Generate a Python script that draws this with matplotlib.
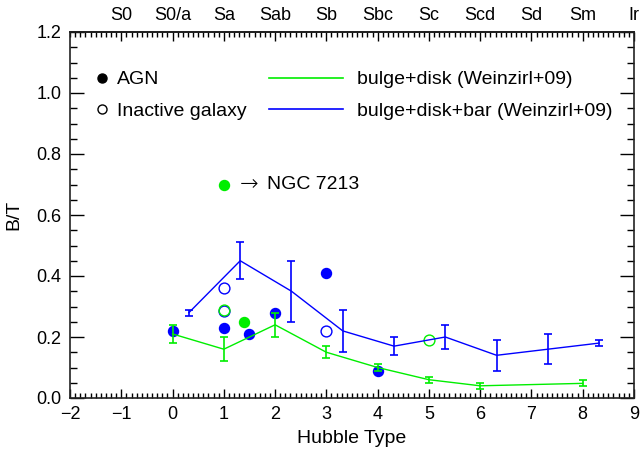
import matplotlib
matplotlib.use("Agg")
import matplotlib.pyplot as plt
from matplotlib.lines import Line2D
from matplotlib.ticker import MultipleLocator, FixedLocator

plt.rcParams['font.family'] = ['Liberation Sans', 'DejaVu Sans']

# ---- data ----
# Weinzirl+09 bulge+disk (green)
bd_x = [0, 1, 2, 3, 4, 5, 6, 8]
bd_y = [0.21, 0.16, 0.24, 0.15, 0.10, 0.06, 0.04, 0.048]
bd_err = [0.03, 0.04, 0.04, 0.02, 0.01, 0.01, 0.01, 0.01]
# Weinzirl+09 bulge+disk+bar (blue)
bdb_x = [0.32, 1.32, 2.32, 3.32, 4.32, 5.32, 6.32, 7.32, 8.32]
bdb_y = [0.28, 0.45, 0.35, 0.22, 0.17, 0.20, 0.14, 0.16, 0.18]
bdb_err = [0.01, 0.06, 0.10, 0.07, 0.03, 0.04, 0.05, 0.05, 0.01]
# AGN (filled), blue
agn_blue_x = [0, 1, 1.5, 2, 3, 4]
agn_blue_y = [0.22, 0.23, 0.21, 0.28, 0.41, 0.09]
# AGN (filled), green
agn_green_x = [1.4]
agn_green_y = [0.25]
# NGC 7213 (filled, green, lower limit)
ngc_x = [1.0]
ngc_y = [0.70]
# Inactive (open), blue
ina_blue_x = [1, 1, 3]
ina_blue_y = [0.36, 0.285, 0.22]
# Inactive (open), green
ina_green_x = [1, 5]
ina_green_y = [0.29, 0.19]

top_pos = [-1, 0, 1, 2, 3, 4, 5, 6, 7, 8, 9]
top_labels = ['S0', 'S0/a', 'Sa', 'Sab', 'Sb', 'Sbc', 'Sc', 'Scd', 'Sd', 'Sm', 'Ir']

GREEN = '#00ee00'
BLUE = '#0000ff'

fig = plt.figure(figsize=(6.44, 4.53), dpi=100)
ax = fig.add_axes([70/644, 1-398/453, 564/644, 366/453])

ms = 7.2
ax.plot(agn_blue_x, agn_blue_y, 'o', color=BLUE, ms=ms, mec=BLUE, zorder=2)
ax.plot(agn_green_x, agn_green_y, 'o', color=GREEN, ms=ms, mec=GREEN, zorder=2)
ax.plot(ngc_x, ngc_y, 'o', color=GREEN, ms=ms, mec=GREEN, zorder=2)
ax.plot(ina_blue_x, ina_blue_y, 'o', mfc='none', mec=BLUE, ms=ms+0.6, mew=1.0, zorder=2)
ax.plot(ina_green_x, ina_green_y, 'o', mfc='none', mec=GREEN, ms=ms+0.6, mew=1.0, zorder=2)

ax.errorbar(bdb_x, bdb_y, yerr=bdb_err, color=BLUE, lw=1.0, elinewidth=1.2,
            capsize=2.6, capthick=1.2, zorder=3)
ax.errorbar(bd_x, bd_y, yerr=bd_err, color=GREEN, lw=1.0, elinewidth=1.2,
            capsize=2.6, capthick=1.2, zorder=3)

ax.annotate('\u2192', xy=(ngc_x[0], ngc_y[0]), xytext=(11.5, 0),
            textcoords='offset points', va='center', ha='left', fontsize=16,
            family='DejaVu Sans', fontweight='light')
ax.annotate('NGC 7213', xy=(ngc_x[0], ngc_y[0]), xytext=(31, 0),
            textcoords='offset points', va='center', ha='left', fontsize=14)

ax.set_xlim(-2, 9)
ax.set_ylim(0, 1.2)
ax.xaxis.set_major_locator(MultipleLocator(1))
ax.xaxis.set_minor_locator(MultipleLocator(0.1))
ax.yaxis.set_major_locator(MultipleLocator(0.2))
ax.yaxis.set_minor_locator(MultipleLocator(0.05))
ax.xaxis.set_major_formatter(plt.FuncFormatter(lambda v, p: f'{v:.0f}'.replace('-', '\u2212')))
ax.yaxis.set_major_formatter(plt.FuncFormatter(lambda v, p: f'{v:.1f}'))

ax.tick_params(which='major', direction='in', length=10, width=1.0, labelsize=13,
               top=False, right=True, left=True, bottom=True, pad=6)
ax.tick_params(which='minor', direction='in', length=5, width=1.0,
               top=False, right=True, left=True, bottom=True)
ax.tick_params(axis='x', which='major', length=6.5)
ax.tick_params(axis='x', which='minor', length=3.5)

secx = ax.secondary_xaxis('top')
secx.xaxis.set_major_locator(FixedLocator(top_pos))
secx.set_xticklabels(top_labels)
secx.xaxis.set_minor_locator(MultipleLocator(0.1))
secx.tick_params(which='major', direction='in', length=6.5, width=1.0, labelsize=13, pad=6)
secx.tick_params(which='minor', direction='in', length=3.5, width=1.0)

for sp in ax.spines.values():
    sp.set_linewidth(1.2)
    sp.set_color('#222222')
secx.spines['top'].set_linewidth(1.2)

ax.set_xlabel('Hubble Type', fontsize=14, labelpad=5)
ax.set_ylabel('B/T', fontsize=14, labelpad=10)

h1 = [Line2D([], [], ls='none', marker='o', color='black', ms=6.5),
      Line2D([], [], ls='none', marker='o', mfc='none', mec='black', ms=6.5, mew=1.0)]
leg1 = ax.legend(h1, ['AGN', 'Inactive galaxy'], loc='center left',
                 bbox_to_anchor=(0.043, 0.827), frameon=False, fontsize=14,
                 handlelength=0.8, handletextpad=0.35, labelspacing=0.72, borderpad=0,
                 borderaxespad=0)
ax.add_artist(leg1)
h2 = [Line2D([], [], color=GREEN, lw=1.2), Line2D([], [], color=BLUE, lw=1.2)]
ax.legend(h2, ['bulge+disk (Weinzirl+09)', 'bulge+disk+bar (Weinzirl+09)'],
          loc='center left', bbox_to_anchor=(0.353, 0.827), frameon=False, fontsize=14,
          handlelength=3.8, handletextpad=0.7, labelspacing=0.72, borderpad=0,
          borderaxespad=0)

fig.savefig('out.png', dpi=100)
